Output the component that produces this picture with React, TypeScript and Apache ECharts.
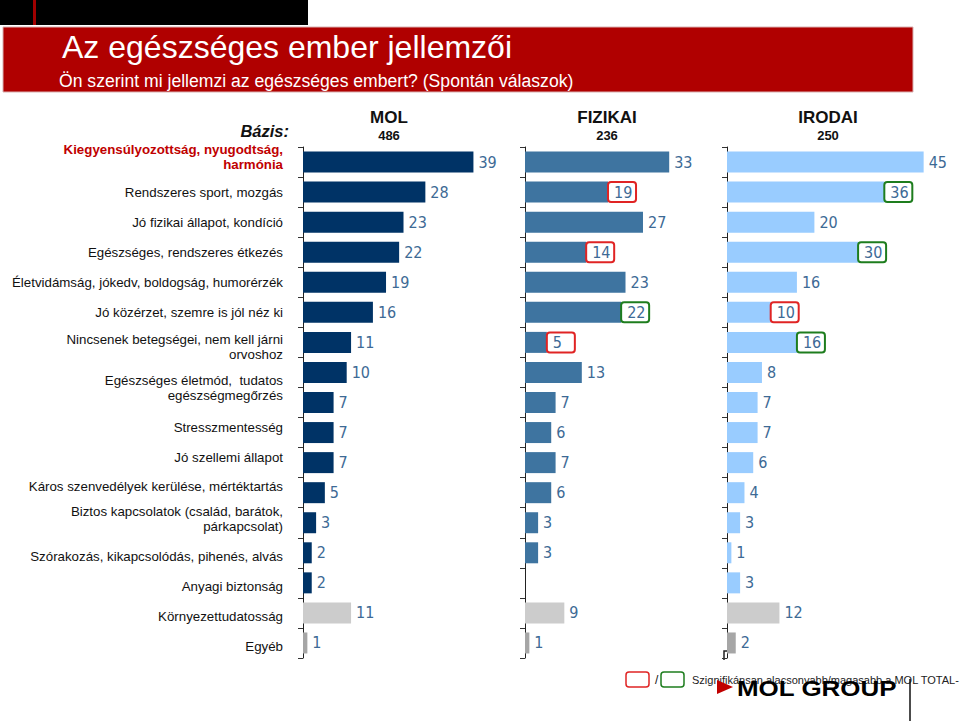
import React, { useEffect, useRef } from "react";
import * as echarts from "echarts";

const categories = [
  "Kiegyensúlyozottság, nyugodtság,\nharmónia",
  "Rendszeres sport, mozgás",
  "Jó fizikai állapot, kondíció",
  "Egészséges, rendszeres étkezés",
  "Életvidámság, jókedv, boldogság, humorérzék",
  "Jó közérzet, szemre is jól néz ki",
  "Nincsenek betegségei, nem kell járni\norvoshoz",
  "Egészséges életmód,  tudatos\negészségmegőrzés",
  "",
  "Stresszmentesség",
  "Jó szellemi állapot",
  "Káros szenvedélyek kerülése, mértéktartás",
  "Biztos kapcsolatok (család, barátok,\npárkapcsolat)",
  "Szórakozás, kikapcsolódás, pihenés, alvás",
  "Anyagi biztonság",
  "Környezettudatosság",
  "Egyéb",
];

const groupNames = ["MOL", "FIZIKAI", "IRODAI"];
const baseCounts = ["486", "236", "250"];

const molValues = [39, 28, 23, 22, 19, 16, 11, 10, 7, 7, 7, 5, 3, 2, 2, 11, 1];
const fizikaiValues = [33, 19, 27, 14, 23, 22, 5, 13, 7, 6, 7, 6, 3, 3, null, 9, 1];
const irodaiValues = [45, 36, 20, 30, 16, 10, 16, 8, 7, 7, 6, 4, 3, 1, 3, 12, 2];

// significance vs MOL total: "r" = lower, "g" = higher
const molSig = ["", "", "", "", "", "", "", "", "", "", "", "", "", "", "", "", ""];
const fizikaiSig = ["", "r", "", "r", "", "g", "r", "", "", "", "", "", "", "", "", "", ""];
const irodaiSig = ["", "g", "", "g", "", "r", "g", "", "", "", "", "", "", "", "", "", ""];

const legendText = "Szignifikánsan alacsonyabb/magasabb a MOL TOTAL-";

// styling (not data)
const labelShift = [-5, 0, 0, 0, 0, 0, 5, 16, 0, -5, -5, -6, -4, 4, 4, 4, 4];
const panelColors = ["#003366", "#3E74A0", "#99CCFF"];
const panelLefts = [303, 525, 727];
const UNIT = 4.37;
const XMAX = 50;
const GRID_TOP = 147;
const GRID_H = 511;
const NARROW = "'Liberation Sans Narrow', 'Arial Narrow', 'DejaVu Sans Condensed', sans-serif";
const ARIAL = "'Liberation Sans', Arial, Helvetica, sans-serif";

function rowColor(panel: number, i: number) {
  if (i === 15) return "#CCCCCC";
  if (i === 16) return "#A6A6A6";
  return panelColors[panel];
}

function buildData(values: (number | null)[], sig: string[], panel: number) {
  return values.map((v, i) => {
    const item: any = {
      value: v == null ? "-" : v,
      itemStyle: { color: rowColor(panel, i) },
    };
    if (sig[i]) {
      item.label = {
        borderColor: sig[i] === "r" ? "#E02424" : "#1E7D1E",
        borderWidth: 2,
        borderRadius: 3,
        padding: [2, 3, 1, 6],
        width: 19,
        distance: 0,
        align: "left",
      };
    }
    return item;
  });
}

export default function App() {
  const ref = useRef<HTMLDivElement>(null);

  useEffect(() => {
    if (!ref.current) return;
    const chart = echarts.init(ref.current, null, { renderer: "svg" });

    const allValues = [molValues, fizikaiValues, irodaiValues];
    const allSig = [molSig, fizikaiSig, irodaiSig];

    const rich: any = {
      n: { fontSize: 13.3, lineHeight: 15, color: "#111", fontFamily: ARIAL, align: "right" },
      h: { fontSize: 13.3, lineHeight: 15, color: "#C00000", fontWeight: "bold", fontFamily: ARIAL, align: "right" },
    };
    labelShift.forEach((s) => {
      if (s !== 0) rich["g" + Math.abs(s)] = { fontSize: 1, lineHeight: 2 * Math.abs(s) };
    });

    const labelFormatter = (value: string, index: number) => {
      if (!value) return "";
      const st = index === 0 ? "h" : "n";
      let body = value
        .split("\n")
        .map((l) => `{${st}|${l}}`)
        .join("\n");
      const s = labelShift[index];
      if (s > 0) body = `{g${s}| }\n` + body;
      if (s < 0) body = body + `\n{g${-s}| }`;
      return body;
    };

    const grids = panelLefts.map((l) => ({
      left: l,
      top: GRID_TOP,
      width: XMAX * UNIT,
      height: GRID_H,
      containLabel: false,
    }));

    const xAxes = panelLefts.map((_, k) => ({
      type: "value",
      gridIndex: k,
      min: 0,
      max: XMAX,
      show: false,
    }));

    const yAxes = panelLefts.map((_, k) => ({
      type: "category",
      gridIndex: k,
      inverse: true,
      boundaryGap: true,
      data: categories,
      axisLine: { show: true, lineStyle: { color: "#222", width: 1 } },
      axisTick: { show: true, inside: false, length: 5, lineStyle: { color: "#333" } },
      splitLine: { show: false },
      axisLabel: {
        show: k === 0,
        margin: 20,
        align: "right",
        formatter: labelFormatter,
        rich,
      },
    }));

    const series = panelLefts.map((_, k) => ({
      type: "bar",
      name: groupNames[k],
      xAxisIndex: k,
      yAxisIndex: k,
      barWidth: 21,
      data: buildData(allValues[k], allSig[k], k),
      label: {
        show: true,
        position: "right",
        distance: 5,
        fontSize: 16,
        fontFamily: NARROW,
        color: "#3D6A95",
        lineHeight: 17,
      },
    }));

    const graphics: any[] = [
      { type: "rect", shape: { x: 0, y: 0, width: 308, height: 25 }, style: { fill: "#000" } },
      { type: "rect", shape: { x: 33, y: 0, width: 3, height: 25 }, style: { fill: "#A00000" } },
      {
        type: "rect",
        shape: { x: 3, y: 27, width: 910, height: 65 },
        style: { fill: "#B00000", stroke: "#D8B0B0", lineWidth: 1 },
      },
      {
        type: "text",
        x: 62,
        y: 47,
        style: {
          text: "Az egészséges ember jellemzői",
          fill: "#fff",
          font: `32px ${ARIAL}`,
          verticalAlign: "middle",
        },
      },
      {
        type: "text",
        x: 59,
        y: 81,
        style: {
          text: "Ön szerint mi jellemzi az egészséges embert? (Spontán válaszok)",
          fill: "#fff",
          font: `17.6px ${ARIAL}`,
          verticalAlign: "middle",
        },
      },
      {
        type: "text",
        x: 289,
        y: 131,
        style: {
          text: "Bázis:",
          fill: "#111",
          font: `italic bold 16.5px ${ARIAL}`,
          align: "right",
          verticalAlign: "middle",
        },
      },
    ];

    const headerCenters = [389, 607, 828];
    headerCenters.forEach((cx, k) => {
      graphics.push({
        type: "text",
        x: cx,
        y: 117,
        style: { text: groupNames[k], fill: "#111", font: `bold 17px ${ARIAL}`, align: "center", verticalAlign: "middle" },
      });
      graphics.push({
        type: "text",
        x: cx,
        y: 135,
        style: { text: baseCounts[k], fill: "#111", font: `bold 13px ${ARIAL}`, align: "center", verticalAlign: "middle" },
      });
    });

    // bottom legend & logo
    graphics.push(
      { type: "polyline", shape: { points: [[724, 660], [724, 651], [729, 651]] }, style: { stroke: "#222", lineWidth: 1.5, fill: "none" } },
      { type: "rect", shape: { x: 626, y: 672, width: 23, height: 15, r: 3 }, style: { fill: "#fff", stroke: "#E02424", lineWidth: 1.5 } },
      { type: "text", x: 655, y: 680, style: { text: "/", fill: "#111", font: `12px ${ARIAL}`, verticalAlign: "middle" } },
      { type: "rect", shape: { x: 661, y: 672, width: 23, height: 15, r: 3 }, style: { fill: "#fff", stroke: "#1E7D1E", lineWidth: 1.5 } },
      { type: "text", x: 692, y: 680, style: { text: legendText, fill: "#222", font: `11px ${ARIAL}`, verticalAlign: "middle" } },
      { type: "polygon", shape: { points: [[717, 680], [733, 687], [717, 694]] }, style: { fill: "#C00000" } },
      {
        type: "text",
        x: 737,
        y: 688,
        scaleX: 1.18,
        style: { text: "MOL GROUP", fill: "#000", font: `900 22px ${ARIAL}`, verticalAlign: "middle" },
      },
      { type: "line", shape: { x1: 910, y1: 679, x2: 910, y2: 721 }, style: { stroke: "#111", lineWidth: 1.5 } }
    );

    chart.setOption({
      animation: false,
      backgroundColor: "#fff",
      grid: grids,
      xAxis: xAxes,
      yAxis: yAxes,
      series,
      graphic: graphics,
    });

    return () => chart.dispose();
  }, []);

  return (
    <div
      ref={ref}
      style={{ position: "fixed", left: 0, top: 0, width: 960, height: 721 }}
    />
  );
}
